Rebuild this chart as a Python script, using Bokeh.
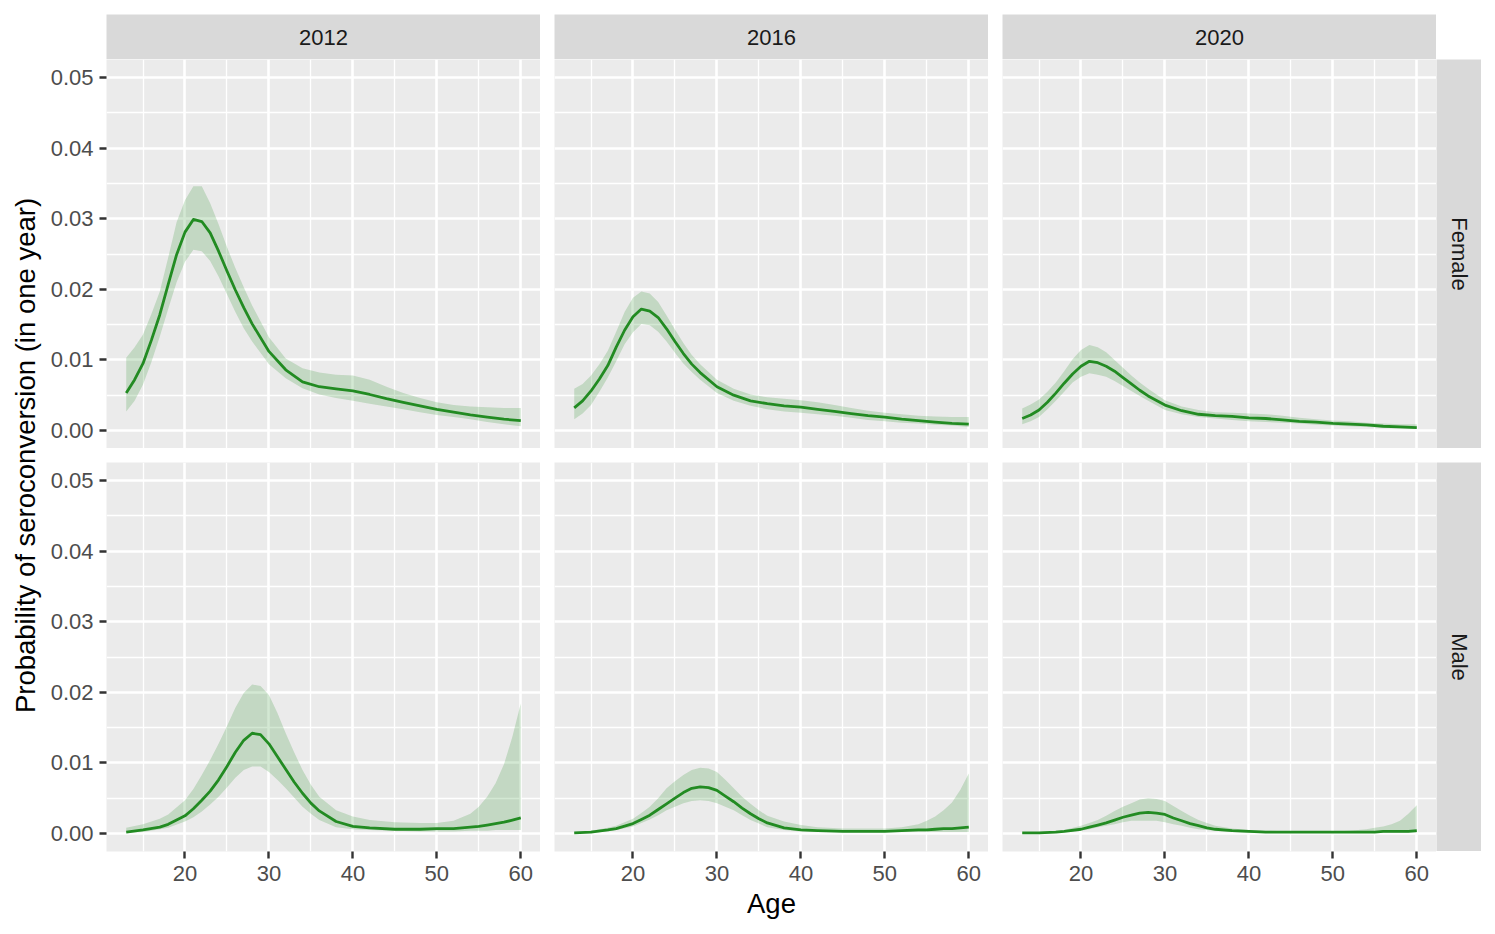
import math
from bokeh.plotting import figure
from bokeh.models import Range1d, FixedTicker, Label, Spacer, NumeralTickFormatter
from bokeh.layouts import row, column
from bokeh.embed import file_html
from bokeh.resources import INLINE

# ---------------- data ----------------
years = ["2012", "2016", "2020"]
sexes = ["Female", "Male"]
x_ticks = [20, 30, 40, 50, 60]
x_tick_labels = ["20", "30", "40", "50", "60"]
x_minor = [15, 25, 35, 45, 55]
y_ticks = [0.0, 0.01, 0.02, 0.03, 0.04, 0.05]
y_tick_labels = ["0.00", "0.01", "0.02", "0.03", "0.04", "0.05"]
y_minor = [0.005, 0.015, 0.025, 0.035, 0.045]
x_title = "Age"
y_title = "Probability of seroconversion (in one year)"

age_f = [13, 14, 15, 16, 17, 18, 19, 20, 21, 22, 23, 24, 25, 26, 27, 28, 30, 32,
         34, 36, 38, 40, 42, 44, 46, 48, 50, 52, 54, 56, 58, 60]

f2012_mid = [0.0053, 0.0072, 0.0095, 0.0128, 0.0164, 0.0207, 0.0249, 0.0281, 0.0299, 0.0296,
             0.0280, 0.0254, 0.0226, 0.0199, 0.0174, 0.0151, 0.0112, 0.0086, 0.0069, 0.0062,
             0.0059, 0.0056, 0.0051, 0.0045, 0.0040, 0.0035, 0.0030, 0.0026, 0.0022, 0.0019,
             0.0016, 0.0014]
f2012_hi = [0.0103, 0.0118, 0.0136, 0.0165, 0.0197, 0.0245, 0.0295, 0.0326, 0.0346, 0.0346,
            0.0322, 0.0292, 0.0260, 0.0230, 0.0203, 0.0177, 0.0132, 0.0102, 0.0088, 0.0082,
            0.0079, 0.0078, 0.0072, 0.0062, 0.0053, 0.0046, 0.0040, 0.0036, 0.0034, 0.0033,
            0.0032, 0.0032]
f2012_lo = [0.0027, 0.0042, 0.0065, 0.0097, 0.0133, 0.0172, 0.0210, 0.0239, 0.0256, 0.0254,
            0.0240, 0.0218, 0.0193, 0.0168, 0.0145, 0.0126, 0.0094, 0.0074, 0.0060, 0.0051,
            0.0046, 0.0042, 0.0038, 0.0034, 0.0030, 0.0026, 0.0022, 0.0019, 0.0016, 0.0012,
            0.0009, 0.0006]

f2016_mid = [0.0032, 0.0042, 0.0056, 0.0073, 0.0092, 0.0118, 0.0142, 0.0161, 0.0172, 0.0169,
             0.0160, 0.0144, 0.0126, 0.0109, 0.0094, 0.0082, 0.0062, 0.0050, 0.0042, 0.0038,
             0.0035, 0.0033, 0.0030, 0.0027, 0.0024, 0.0021, 0.0019, 0.0016, 0.0014, 0.0012,
             0.0010, 0.0009]
f2016_hi = [0.0059, 0.0066, 0.0078, 0.0094, 0.0113, 0.0140, 0.0168, 0.0188, 0.0197, 0.0194,
            0.0182, 0.0163, 0.0143, 0.0124, 0.0107, 0.0094, 0.0072, 0.0059, 0.0051, 0.0047,
            0.0045, 0.0043, 0.0040, 0.0036, 0.0032, 0.0028, 0.0025, 0.0023, 0.0021, 0.0020,
            0.0019, 0.0019]
f2016_lo = [0.0016, 0.0024, 0.0036, 0.0055, 0.0075, 0.0098, 0.0122, 0.0139, 0.0151, 0.0149,
            0.0140, 0.0126, 0.0110, 0.0095, 0.0083, 0.0072, 0.0053, 0.0042, 0.0035, 0.0030,
            0.0027, 0.0025, 0.0023, 0.0021, 0.0018, 0.0015, 0.0013, 0.0011, 0.0010, 0.0008,
            0.0007, 0.0005]

f2020_mid = [0.0017, 0.0022, 0.0029, 0.0040, 0.0053, 0.0067, 0.0080, 0.0091, 0.0098, 0.0096,
             0.0091, 0.0084, 0.0075, 0.0066, 0.0057, 0.0049, 0.0036, 0.0028, 0.0023, 0.0021,
             0.0020, 0.0018, 0.0017, 0.0015, 0.0013, 0.0012, 0.0010, 0.0009, 0.0008, 0.0006,
             0.0005, 0.0004]
f2020_hi = [0.0031, 0.0037, 0.0044, 0.0055, 0.0068, 0.0084, 0.0101, 0.0114, 0.0121, 0.0118,
            0.0111, 0.0100, 0.0089, 0.0078, 0.0068, 0.0059, 0.0043, 0.0034, 0.0029, 0.0026,
            0.0025, 0.0024, 0.0023, 0.0021, 0.0018, 0.0016, 0.0014, 0.0013, 0.0011, 0.0010,
            0.0009, 0.0009]
f2020_lo = [0.0009, 0.0013, 0.0019, 0.0030, 0.0042, 0.0055, 0.0068, 0.0076, 0.0081, 0.0079,
            0.0076, 0.0070, 0.0063, 0.0056, 0.0049, 0.0042, 0.0029, 0.0023, 0.0019, 0.0017,
            0.0015, 0.0013, 0.0012, 0.0011, 0.0010, 0.0008, 0.0007, 0.0006, 0.0005, 0.0004,
            0.0003, 0.0002]

age_m = [13, 15, 17, 18, 20, 21, 22, 23, 24, 25, 26, 27, 28, 29, 30, 31, 32, 33, 34, 35,
         36, 38, 40, 42, 45, 48, 50, 52, 54, 55, 56, 57, 58, 59, 60]

m2012_mid = [0.0002, 0.0005, 0.0009, 0.0013, 0.0025, 0.0035, 0.0047, 0.0060, 0.0076, 0.0095,
             0.0115, 0.0132, 0.0142, 0.0140, 0.0127, 0.0109, 0.0091, 0.0073, 0.0057, 0.0043,
             0.0032, 0.0017, 0.0010, 0.0008, 0.0006, 0.0006, 0.0007, 0.0007, 0.0009, 0.0010,
             0.0012, 0.0014, 0.0016, 0.0019, 0.0022]
m2012_hi = [0.0008, 0.0013, 0.0021, 0.0027, 0.0047, 0.0063, 0.0083, 0.0104, 0.0127, 0.0152,
            0.0178, 0.0199, 0.0211, 0.0209, 0.0196, 0.0171, 0.0142, 0.0115, 0.0090, 0.0069,
            0.0052, 0.0033, 0.0024, 0.0019, 0.0016, 0.0015, 0.0015, 0.0018, 0.0028, 0.0038,
            0.0052, 0.0071, 0.0098, 0.0137, 0.0184]
m2012_lo = [0.0001, 0.0002, 0.0006, 0.0008, 0.0017, 0.0023, 0.0031, 0.0041, 0.0052, 0.0065,
            0.0079, 0.0090, 0.0095, 0.0095, 0.0087, 0.0076, 0.0064, 0.0051, 0.0038, 0.0028,
            0.0019, 0.0009, 0.0006, 0.0005, 0.0004, 0.0003, 0.0003, 0.0003, 0.0004, 0.0004,
            0.0004, 0.0005, 0.0005, 0.0005, 0.0005]

m2016_mid = [0.0001, 0.0002, 0.0005, 0.0007, 0.0014, 0.0020, 0.0026, 0.0034, 0.0042, 0.0050,
             0.0058, 0.0064, 0.0066, 0.0065, 0.0061, 0.0053, 0.0045, 0.0036, 0.0028, 0.0021,
             0.0015, 0.0008, 0.0005, 0.0004, 0.0003, 0.0003, 0.0003, 0.0004, 0.0005, 0.0005,
             0.0006, 0.0007, 0.0007, 0.0008, 0.0009]
m2016_hi = [0.0002, 0.0004, 0.0008, 0.0011, 0.0021, 0.0029, 0.0038, 0.0050, 0.0064, 0.0074,
            0.0083, 0.0090, 0.0093, 0.0092, 0.0087, 0.0076, 0.0064, 0.0052, 0.0042, 0.0033,
            0.0025, 0.0017, 0.0012, 0.0009, 0.0007, 0.0007, 0.0007, 0.0009, 0.0013, 0.0018,
            0.0024, 0.0033, 0.0044, 0.0062, 0.0085]
m2016_lo = [0.0000, 0.0001, 0.0003, 0.0005, 0.0010, 0.0015, 0.0020, 0.0026, 0.0033, 0.0038,
            0.0043, 0.0046, 0.0047, 0.0046, 0.0043, 0.0038, 0.0033, 0.0026, 0.0019, 0.0014,
            0.0009, 0.0005, 0.0003, 0.0002, 0.0002, 0.0002, 0.0002, 0.0002, 0.0002, 0.0002,
            0.0002, 0.0002, 0.0002, 0.0002, 0.0002]

m2020_mid = [0.0001, 0.0001, 0.0002, 0.0003, 0.0006, 0.0009, 0.0012, 0.0015, 0.0019, 0.0023,
             0.0026, 0.0029, 0.0030, 0.0029, 0.0027, 0.0022, 0.0018, 0.0014, 0.0011, 0.0008,
             0.0006, 0.0004, 0.0003, 0.0002, 0.0002, 0.0002, 0.0002, 0.0002, 0.0002, 0.0002,
             0.0003, 0.0003, 0.0003, 0.0003, 0.0004]
m2020_hi = [0.0001, 0.0002, 0.0004, 0.0005, 0.0011, 0.0015, 0.0019, 0.0025, 0.0032, 0.0038,
            0.0043, 0.0048, 0.0050, 0.0049, 0.0046, 0.0039, 0.0032, 0.0025, 0.0019, 0.0015,
            0.0011, 0.0007, 0.0005, 0.0004, 0.0003, 0.0003, 0.0003, 0.0004, 0.0006, 0.0008,
            0.0010, 0.0013, 0.0018, 0.0028, 0.0040]
m2020_lo = [0.0000, 0.0000, 0.0001, 0.0002, 0.0004, 0.0006, 0.0009, 0.0011, 0.0013, 0.0016,
            0.0018, 0.0018, 0.0018, 0.0018, 0.0016, 0.0013, 0.0011, 0.0008, 0.0006, 0.0005,
            0.0004, 0.0002, 0.0001, 0.0001, 0.0001, 0.0001, 0.0001, 0.0001, 0.0001, 0.0001,
            0.0001, 0.0001, 0.0001, 0.0001, 0.0001]

series = {
    ("Female", "2012"): (age_f, f2012_lo, f2012_mid, f2012_hi),
    ("Female", "2016"): (age_f, f2016_lo, f2016_mid, f2016_hi),
    ("Female", "2020"): (age_f, f2020_lo, f2020_mid, f2020_hi),
    ("Male", "2012"): (age_m, m2012_lo, m2012_mid, m2012_hi),
    ("Male", "2016"): (age_m, m2016_lo, m2016_mid, m2016_hi),
    ("Male", "2020"): (age_m, m2020_lo, m2020_mid, m2020_hi),
}

# ---------------- style ----------------
FONT = "Liberation Sans"
PANEL_W, PANEL_H = 434, 389
GAP = 14
LEFT = 64
BOTTOM = 80
YT_W = 34
STRIP = 45
LINE_COL = "#228B22"
X_RANGE = (10.65, 62.35)
Y_RANGE = (-0.00255, 0.05255)


def panel(sex, year, left_axis, bottom_axis, xlabel=None):
    ages, lo, mid, hi = series[(sex, year)]
    w = PANEL_W + (LEFT if left_axis else 0)
    h = PANEL_H + (BOTTOM if bottom_axis else 0)
    p = figure(width=w, height=h,
               x_range=Range1d(*X_RANGE), y_range=Range1d(*Y_RANGE),
               output_backend="svg", toolbar_location=None,
               x_axis_location="below" if bottom_axis else None,
               y_axis_location="left" if left_axis else None,
               min_border_left=LEFT if left_axis else 0, min_border_right=0,
               min_border_top=0, min_border_bottom=BOTTOM if bottom_axis else 0,
               background_fill_color="#EBEBEB", border_fill_color="white",
               outline_line_color=None)
    p.xgrid.ticker = FixedTicker(ticks=x_ticks, minor_ticks=x_minor)
    p.ygrid.ticker = FixedTicker(ticks=y_ticks, minor_ticks=y_minor)
    for g in (p.xgrid, p.ygrid):
        g.grid_line_color = "white"
        g.grid_line_width = 2.6
        g.minor_grid_line_color = "white"
        g.minor_grid_line_width = 1.3
    if left_axis:
        ax = p.yaxis[0]
        ax.ticker = FixedTicker(ticks=y_ticks)
        ax.formatter = NumeralTickFormatter(format="0.00")
        ax.major_label_overrides = dict(zip(y_ticks, y_tick_labels))
        ax.major_label_standoff = 6
    if bottom_axis:
        ax = p.xaxis[0]
        ax.ticker = FixedTicker(ticks=x_ticks)
        ax.major_label_overrides = dict(zip(x_ticks, x_tick_labels))
        ax.major_label_standoff = 7
        if xlabel:
            ax.axis_label = xlabel
            ax.axis_label_text_font = FONT
            ax.axis_label_text_font_size = "27.5px"
            ax.axis_label_text_font_style = "normal"
            ax.axis_label_text_color = "black"
            ax.axis_label_standoff = 4
    for ax in p.axis:
        ax.axis_line_color = None
        ax.major_tick_line_color = "#333333"
        ax.major_tick_line_width = 2.4
        ax.major_tick_out = 7
        ax.major_tick_in = 0
        ax.minor_tick_line_color = None
        ax.major_label_text_font = FONT
        ax.major_label_text_font_size = "22px"
        ax.major_label_text_color = "#4D4D4D"
    p.varea(x=ages, y1=lo, y2=hi, fill_color=LINE_COL, fill_alpha=0.2)
    p.line(x=ages, y=mid, line_color=LINE_COL, line_width=2.8, line_join="round")
    return p


def text_box(text, w, h, fill, size, color, angle=0.0, ypos=0.5):
    s = figure(width=w, height=h, x_range=Range1d(0, 1), y_range=Range1d(0, 1),
               output_backend="svg", toolbar_location=None,
               x_axis_location=None, y_axis_location=None,
               min_border=0, min_border_left=0, min_border_right=0,
               min_border_top=0, min_border_bottom=0,
               background_fill_color=fill, border_fill_color="white",
               outline_line_color=None)
    s.xgrid.visible = False
    s.ygrid.visible = False
    s.add_layout(Label(x=0.5, y=ypos, text=text, text_align="center",
                       text_baseline="middle", angle=angle, text_font=FONT,
                       text_font_size=size, text_color=color))
    return s


top_strips = row(Spacer(width=LEFT + YT_W, height=STRIP),
                 text_box(years[0], PANEL_W, STRIP, "#D9D9D9", "22px", "#1A1A1A"),
                 Spacer(width=GAP, height=STRIP),
                 text_box(years[1], PANEL_W, STRIP, "#D9D9D9", "22px", "#1A1A1A"),
                 Spacer(width=GAP, height=STRIP),
                 text_box(years[2], PANEL_W, STRIP, "#D9D9D9", "22px", "#1A1A1A"))

row1 = row(panel(sexes[0], years[0], True, False), Spacer(width=GAP, height=PANEL_H),
           panel(sexes[0], years[1], False, False), Spacer(width=GAP, height=PANEL_H),
           panel(sexes[0], years[2], False, False),
           text_box(sexes[0], STRIP, PANEL_H, "#D9D9D9", "22px", "#1A1A1A", angle=-math.pi / 2))

row2 = row(panel(sexes[1], years[0], True, True), Spacer(width=GAP, height=PANEL_H + BOTTOM),
           panel(sexes[1], years[1], False, True, xlabel=x_title),
           Spacer(width=GAP, height=PANEL_H + BOTTOM),
           panel(sexes[1], years[2], False, True),
           column(text_box(sexes[1], STRIP, PANEL_H, "#D9D9D9", "22px", "#1A1A1A", angle=-math.pi / 2),
                  Spacer(width=STRIP, height=BOTTOM)))

ytitle = column(text_box(y_title, YT_W, 2 * PANEL_H + GAP, "white", "27.5px", "black",
                         angle=math.pi / 2),
                Spacer(width=YT_W, height=BOTTOM))

main = row(ytitle, column(row1, Spacer(width=10, height=GAP), row2))

layout = row(Spacer(width=8, height=10),
             column(Spacer(width=10, height=14), top_strips, main))

open("out.html", "w").write(file_html(layout, INLINE))
